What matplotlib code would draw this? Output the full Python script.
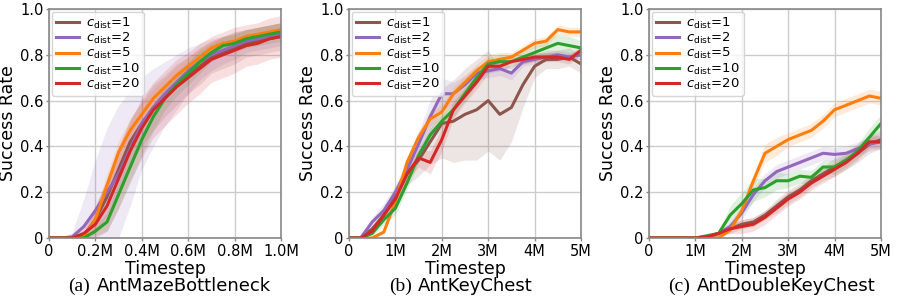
import numpy as np
import matplotlib
matplotlib.use("Agg")
import matplotlib.pyplot as plt

# ---------- data ----------
labels = [1, 2, 5, 10, 20]
colors = ["#8c564b", "#9467bd", "#ff7f0e", "#2ca02c", "#d62728"]

# (a) AntMazeBottleneck, x in millions of steps
a_x = [0, .05, .1, .15, .2, .25, .3, .35, .4, .45, .5, .55, .6, .65, .7, .75, .8, .85, .9, .95, 1.0]
a_c1 = [0, 0, 0, .01, .08, .18, .30, .42, .50, .57, .62, .67, .71, .75, .79, .81, .83, .85, .86, .87, .88]
a_c2 = [0, 0, .005, .05, .12, .20, .28, .39, .50, .57, .63, .68, .73, .77, .80, .82, .84, .86, .87, .88, .89]
a_c5 = [0, 0, 0, .005, .08, .23, .375, .47, .54, .61, .66, .71, .75, .79, .83, .85, .86, .88, .89, .90, .91]
a_c10 = [0, 0, 0, 0, .03, .07, .19, .31, .43, .53, .61, .67, .72, .77, .81, .84, .85, .87, .88, .89, .90]
a_c20 = [0, 0, 0, .02, .06, .14, .26, .38, .48, .56, .61, .66, .70, .74, .78, .80, .82, .84, .85, .87, .88]
a_s1 = [0, 0, 0, .02, .06, .08, .10, .10, .10, .10, .09, .09, .08, .08, .07, .07, .07, .06, .06, .06, .06]
a_s2 = [0, 0, .02, .12, .22, .28, .30, .25, .20, .17, .14, .12, .10, .08, .07, .06, .06, .05, .05, .05, .05]
a_s5 = [0, 0, 0, .01, .04, .05, .05, .05, .05, .04, .04, .04, .04, .04, .03, .03, .03, .03, .03, .03, .03]
a_s10 = [0, 0, 0, 0, .02, .04, .06, .07, .07, .06, .05, .05, .05, .05, .04, .04, .04, .04, .04, .04, .04]
a_s20 = [0, 0, .01, .04, .08, .11, .13, .13, .13, .12, .12, .12, .11, .11, .10, .10, .10, .09, .09, .09, .09]

# (b) AntKeyChest
b_x = [0, .25, .5, .75, 1, 1.25, 1.5, 1.75, 2, 2.25, 2.5, 2.75, 3, 3.25, 3.5, 3.75, 4, 4.25, 4.5, 4.75, 5]
b_c1 = [0, 0, .04, .10, .18, .28, .34, .42, .50, .51, .54, .56, .60, .54, .57, .67, .75, .78, .78, .79, .76]
b_c2 = [0, 0, .07, .12, .20, .30, .41, .53, .63, .63, .67, .72, .73, .74, .72, .77, .78, .79, .80, .79, .80]
b_c5 = [0, 0, 0, .026, .16, .33, .44, .52, .55, .63, .68, .73, .77, .78, .79, .82, .85, .86, .91, .90, .90]
b_c10 = [0, 0, .02, .08, .13, .24, .36, .45, .51, .56, .63, .70, .76, .77, .77, .79, .81, .83, .85, .84, .83]
b_c20 = [0, 0, .03, .10, .17, .28, .35, .33, .43, .56, .62, .68, .75, .75, .77, .78, .79, .79, .79, .78, .82]
b_s1 = [0, 0, .01, .03, .04, .05, .07, .10, .15, .18, .20, .22, .22, .20, .15, .10, .05, .04, .04, .04, .04]
b_s2 = [0, 0, .02, .03, .03, .04, .05, .07, .07, .05, .04, .03, .03, .03, .03, .02, .02, .02, .02, .02, .02]
b_s5 = [0, 0, 0, .01, .02, .02, .03, .03, .03, .03, .03, .03, .03, .03, .02, .02, .02, .02, .02, .02, .02]
b_s10 = [0, 0, .01, .02, .03, .03, .03, .03, .03, .03, .03, .03, .03, .03, .03, .03, .03, .04, .04, .04, .03]
b_s20 = [0, 0, .01, .02, .03, .03, .04, .05, .05, .04, .03, .03, .03, .02, .02, .02, .02, .02, .02, .02, .02]

# (c) AntDoubleKeyChest
c_x = b_x
c_c1 = [0, 0, 0, 0, 0, .005, .02, .04, .06, .07, .10, .14, .18, .21, .25, .28, .31, .34, .37, .41, .43]
c_c2 = [0, 0, 0, 0, 0, .005, .02, .05, .11, .19, .25, .29, .31, .33, .35, .37, .365, .37, .39, .41, .42]
c_c5 = [0, 0, 0, 0, 0, 0, 0, .035, .12, .25, .37, .40, .43, .45, .47, .51, .56, .58, .60, .62, .61]
c_c10 = [0, 0, 0, 0, 0, .01, .02, .10, .15, .21, .22, .25, .25, .27, .265, .31, .31, .34, .38, .44, .50]
c_c20 = [0, 0, 0, 0, 0, .005, .02, .04, .05, .06, .09, .13, .17, .20, .24, .27, .30, .33, .37, .42, .42]
c_s1 = [0, 0, 0, 0, 0, .005, .01, .02, .02, .02, .02, .03, .03, .03, .03, .03, .04, .04, .04, .04, .04]
c_s2 = [0, 0, 0, 0, 0, .005, .01, .02, .03, .03, .03, .03, .03, .03, .03, .03, .03, .03, .03, .03, .03]
c_s5 = [0, 0, 0, 0, 0, 0, 0, .01, .02, .03, .04, .04, .03, .03, .03, .03, .03, .03, .03, .03, .03]
c_s10 = [0, 0, 0, 0, 0, .005, .01, .04, .05, .05, .04, .04, .03, .03, .03, .03, .03, .03, .03, .04, .04]
c_s20 = [0, 0, 0, 0, 0, .005, .01, .02, .03, .03, .03, .03, .03, .03, .03, .03, .03, .03, .03, .03, .03]

panels = [
    ("(a)", "AntMazeBottleneck", a_x, [a_c1, a_c2, a_c5, a_c10, a_c20],
     [a_s1, a_s2, a_s5, a_s10, a_s20], [0, .2, .4, .6, .8, 1.0],
     ["0", "0.2M", "0.4M", "0.6M", "0.8M", "1.0M"], 1.0),
    ("(b)", "AntKeyChest", b_x, [b_c1, b_c2, b_c5, b_c10, b_c20],
     [b_s1, b_s2, b_s5, b_s10, b_s20], [0, 1, 2, 3, 4, 5],
     ["0", "1M", "2M", "3M", "4M", "5M"], 5.0),
    ("(c)", "AntDoubleKeyChest", c_x, [c_c1, c_c2, c_c5, c_c10, c_c20],
     [c_s1, c_s2, c_s5, c_s10, c_s20], [0, 1, 2, 3, 4, 5],
     ["0", "1M", "2M", "3M", "4M", "5M"], 5.0),
]

W, H = 897, 299
fig = plt.figure(figsize=(W / 100, H / 100), dpi=100)
lefts = [49, 349, 649]

for (tag, name, x, means, stds, xt, xtl, xmax), left in zip(panels, lefts):
    ax = fig.add_axes([left / W, 61 / H, 232 / W, 229 / H])
    x = np.array(x)
    for lab, col, m, s in zip(labels, colors, means, stds):
        m, s = np.array(m), np.array(s)
        ax.fill_between(x, np.clip(m - s, 0, 1), np.clip(m + s, 0, 1),
                        color=col, alpha=0.15, lw=0)
        ax.plot(x, m, color=col, lw=2.2, label=r"$c_{\rm dist}$=%d" % lab)
    ax.set_xlim(0, xmax); ax.set_ylim(0, 1)
    ax.set_xticks(xt); ax.set_xticklabels(xtl, fontsize=10.5)
    ax.set_yticks([0, .2, .4, .6, .8, 1.0])
    ax.set_yticklabels(["0", "0.2", "0.4", "0.6", "0.8", "1.0"], fontsize=10.5)
    ax.tick_params(length=2, width=1, color="#888888", pad=2)
    ax.grid(color="#cccccc", lw=1)
    ax.set_axisbelow(True)
    for sp in ax.spines.values():
        sp.set_color("#888888"); sp.set_linewidth(1.2)
    ax.set_xlabel("Timestep", fontsize=12.5, labelpad=1)
    ax.set_ylabel("Success Rate", fontsize=12.5, labelpad=2)
    ax.legend(loc="upper left", fontsize=9.5, handlelength=1.8, labelspacing=0.02,
              borderpad=0.3, handletextpad=0.5, borderaxespad=0.2)
    # caption: serif tag + sans name
    x0 = left + (19 if tag != "(b)" else 40)
    fig.text(x0 / W, 1 - 291 / H, tag, family="Liberation Serif", fontsize=14, va="baseline")
    fig.text((x0 + 29) / W, 1 - 291 / H, name, fontsize=13, va="baseline")

fig.savefig("out.png", dpi=100)
